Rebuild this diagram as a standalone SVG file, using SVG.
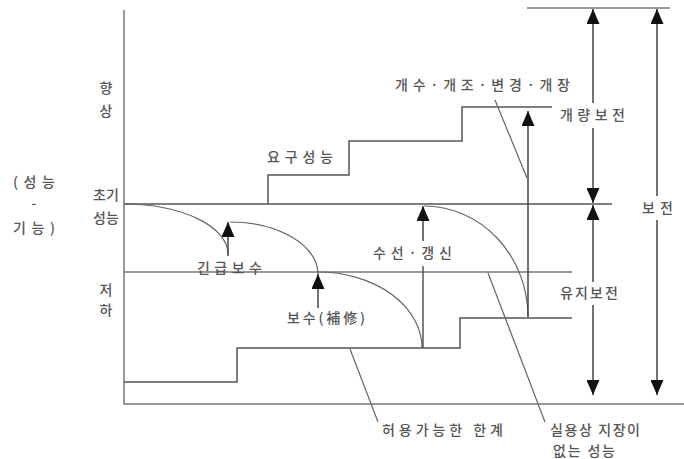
<svg xmlns="http://www.w3.org/2000/svg" width="684" height="459" viewBox="0 0 684 459">
<style>
.t{font-family:"Noto Sans CJK KR","Noto Sans",sans-serif;font-size:14px;fill:#555;font-weight:500;}
.ln{fill:none;stroke:#777;stroke-width:1.5;}
.dk{fill:none;stroke:#555;stroke-width:1.5;}
.cv{fill:none;stroke:#666;stroke-width:1.2;}
.ar{fill:none;stroke:#444;stroke-width:1.5;marker-end:url(#ah);}
</style>
<defs>
<marker id="ah" viewBox="0 0 15 13" refX="15" refY="6.5" markerWidth="15" markerHeight="13" markerUnits="userSpaceOnUse" orient="auto">
<path d="M0,0 L15,6.5 L0,13 z" fill="#111"/>
</marker>
</defs>
<rect width="684" height="459" fill="#fff"/>
<g id="axes">
<path class="ln" d="M124,10 V404 H684"/>
<path class="ln" d="M527,8 H670"/>
<path class="dk" d="M124,204 H612" stroke-width="2"/>
<path class="ln" d="M124,272 H572"/>
</g>
<g id="required-performance">
<path class="dk" d="M268,204 V175 H349 V141 H462 V107 H552"/>
</g>
<g id="allowable-limit">
<path class="dk" d="M124,382 H237 V348 H460 V318 H572"/>
</g>
<g id="connectors">
<path class="cv" d="M124,204 A104,50 0 0 1 228,254"/>
<path class="cv" d="M230,222 A88,52 0 0 1 318,274"/>
<path class="cv" d="M318,272 A104,76 0 0 1 422,348"/>
<path class="cv" d="M424,206 A104,111 0 0 1 528,317"/>
<path class="ar" d="M228,256 V222"/>
<path class="ar" d="M318,308 V274"/>
<path class="dk" d="M423,348 V266"/>
<path class="ar" d="M423,241 V206"/>
<path class="ar" d="M528,317 V111"/>
<path class="cv" d="M495,100 L527,178"/>
<path class="cv" d="M350,349 L378,422"/>
<path class="cv" d="M488,273 L545,422"/>
<path class="ar" d="M593,103 V9"/>
<path class="ar" d="M593,128 V203"/>
<path class="ar" d="M593,282 V205"/>
<path class="ar" d="M593,305 V395"/>
<path class="ar" d="M657,196 V9"/>
<path class="ar" d="M657,220 V395"/>
</g>
<g id="axis-labels">
<text class="t" x="106" y="93" text-anchor="middle">향</text>
<text class="t" x="106" y="116" text-anchor="middle">상</text>
<text class="t" x="106" y="200" text-anchor="middle" font-size="12">초기</text>
<text class="t" x="106" y="223" text-anchor="middle" font-size="12">성능</text>
<text class="t" x="106" y="295" text-anchor="middle">저</text>
<text class="t" x="106" y="315" text-anchor="middle">하</text>
<text class="t" x="13" y="187" textLength="42" lengthAdjust="spacing">(성능</text>
<text class="t" x="34" y="208" text-anchor="middle">-</text>
<text class="t" x="13" y="233" textLength="42" lengthAdjust="spacing">기능)</text>
</g>
<g id="label-emergency"><text class="t" x="197" y="273" textLength="65" lengthAdjust="spacing">긴급보수</text></g>
<g id="label-repair"><text class="t" x="287" y="323" textLength="78" lengthAdjust="spacing">보수(補修)</text></g>
<g id="label-renewal"><text class="t" x="373" y="258" textLength="79" lengthAdjust="spacing">수선·갱신</text></g>
<g id="label-required"><text class="t" x="267" y="162" textLength="66" lengthAdjust="spacing">요구성능</text></g>
<g id="label-remodel"><text class="t" x="395" y="90" textLength="175" lengthAdjust="spacing">개수·개조·변경·개장</text></g>
<g id="label-improve"><text class="t" x="560" y="120" textLength="65" lengthAdjust="spacing">개량보전</text></g>
<g id="label-maintain"><text class="t" x="560" y="298" textLength="58" lengthAdjust="spacing">유지보전</text></g>
<g id="label-conserve"><text class="t" x="642" y="213" textLength="31" lengthAdjust="spacing">보전</text></g>
<g id="label-limit"><text class="t" x="382" y="435" textLength="121" lengthAdjust="spacing">허용가능한 한계</text></g>
<g id="label-practical">
<text class="t" x="550" y="435" textLength="90" lengthAdjust="spacing">실용상 지장이</text>
<text class="t" x="553" y="456" textLength="62" lengthAdjust="spacing">없는 성능</text>
</g>
</svg>
